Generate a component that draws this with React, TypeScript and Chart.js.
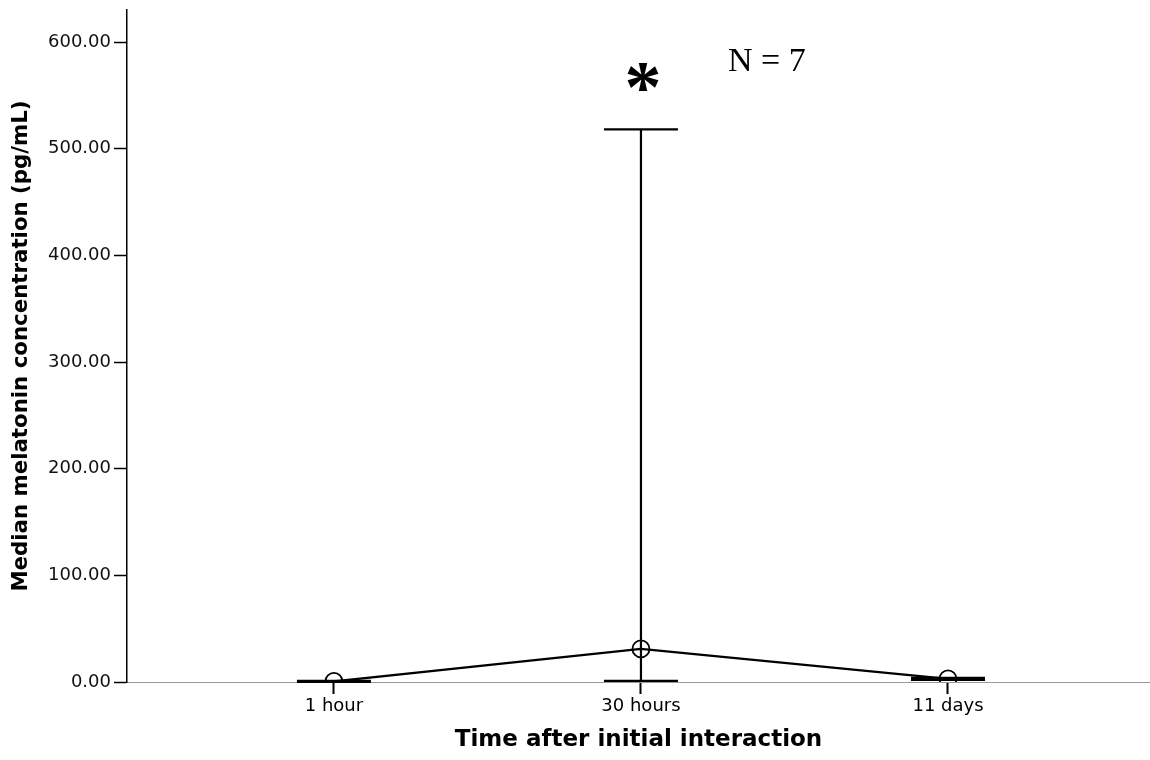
import { useEffect, useRef } from "react";
import { Chart, registerables } from "chart.js";

Chart.register(...registerables);

// Time points and median melatonin with their range bars
const categories = ["1 hour", "30 hours", "11 days"];
const medians = [0.5, 31, 3];
const lowerBounds = [0, 1, 2];
const upperBounds = [1, 518, 4];
const yTickValues = [0, 100, 200, 300, 400, 500, 600];
const sampleSize = 7;
const significantIndex = 1;

const SANS = '"DejaVu Sans", Verdana, sans-serif';
const SERIF = '"Liberation Serif", "Times New Roman", serif';

// Vertical range bars with caps, drawn on top of the line and markers
const errorBarPlugin = {
  id: "errorBars",
  afterDatasetsDraw(chart: any) {
    const { ctx, chartArea, scales } = chart;
    const xs = scales.x;
    const ys = scales.y;
    ctx.save();
    ctx.beginPath();
    ctx.rect(chartArea.left, chartArea.top, chartArea.right - chartArea.left, chartArea.bottom - chartArea.top + 2);
    ctx.clip();
    ctx.strokeStyle = "#000";
    ctx.lineWidth = 2.2;
    const half = 37;
    categories.forEach((_, i) => {
      const x = xs.getPixelForValue(i);
      const yt = ys.getPixelForValue(upperBounds[i]);
      const yb = ys.getPixelForValue(lowerBounds[i]);
      ctx.beginPath();
      ctx.moveTo(x, yt);
      ctx.lineTo(x, yb);
      ctx.moveTo(x - half, yt);
      ctx.lineTo(x + half, yt);
      ctx.moveTo(x - half, yb);
      ctx.lineTo(x + half, yb);
      ctx.stroke();
    });
    ctx.restore();
  },
};

// Significance star above the peak bar and the sample-size note
const annotationPlugin = {
  id: "annotations",
  afterDraw(chart: any) {
    const { ctx, scales } = chart;
    const x = scales.x.getPixelForValue(significantIndex);
    const yTop = scales.y.getPixelForValue(upperBounds[significantIndex]);
    ctx.save();
    ctx.fillStyle = "#000";
    ctx.textAlign = "center";
    ctx.textBaseline = "alphabetic";
    ctx.font = `bold 74px ${SERIF}`;
    ctx.fillText("*", x + 2, yTop - 17);
    ctx.textAlign = "left";
    ctx.font = `34px ${SERIF}`;
    ctx.fillText(`N = ${sampleSize}`, 728, 71);
    ctx.restore();
  },
};

export default function App() {
  const canvasRef = useRef<HTMLCanvasElement | null>(null);

  useEffect(() => {
    document.body.style.margin = "0";
    const canvas = canvasRef.current;
    if (!canvas) return;
    const chart = new Chart(canvas, {
      type: "line",
      data: {
        datasets: [
          {
            data: medians.map((v, i) => ({ x: i, y: v })),
            borderColor: "#000",
            borderWidth: 2.2,
            pointStyle: "circle",
            pointRadius: 8.5,
            pointBorderWidth: 1.8,
            pointBorderColor: "#000",
            pointBackgroundColor: "transparent",
            tension: 0,
            clip: 0,
          },
        ],
      },
      options: {
        responsive: false,
        animation: false,
        layout: { autoPadding: false, padding: { top: 10, right: 0, bottom: 0, left: 0 } },
        plugins: {
          legend: { display: false },
          tooltip: { enabled: false },
        },
        scales: {
          x: {
            type: "linear",
            min: -0.674,
            max: 2.658,
            afterBuildTicks: (s: any) => {
              s.ticks = categories.map((_, i) => ({ value: i }));
            },
            afterFit: (s: any) => {
              s.height = 78;
              s.paddingLeft = 0;
              s.paddingRight = 0;
            },
            ticks: {
              callback: (v: any) => categories[v] ?? "",
              color: "#000",
              font: { family: SANS, size: 18 },
              padding: 2,
              maxRotation: 0,
            },
            grid: {
              drawOnChartArea: false,
              drawTicks: true,
              tickLength: 12,
              tickWidth: 2,
              tickColor: "#000",
            },
            border: { color: "#999", width: 1, dash: [2, 2] },
            title: {
              display: true,
              text: "Time after initial interaction",
              color: "#000",
              font: { family: SANS, size: 23, weight: "bold" },
              padding: { top: 0, bottom: 6 },
            },
          },
          y: {
            type: "linear",
            min: 0,
            max: 630,
            afterBuildTicks: (s: any) => {
              s.ticks = yTickValues.map((v) => ({ value: v }));
            },
            afterFit: (s: any) => {
              s.width = 127;
              s.paddingTop = 0;
              s.paddingBottom = 0;
            },
            ticks: {
              callback: (v: any) => Number(v).toFixed(2),
              color: "#111",
              font: { family: SANS, size: 18 },
              padding: 3,
            },
            grid: {
              drawOnChartArea: false,
              drawTicks: true,
              tickLength: 13,
              tickWidth: 1.5,
              tickColor: "#000",
            },
            border: { color: "#000", width: 1.5 },
            title: {
              display: true,
              text: "Median melatonin concentration (pg/mL)",
              color: "#000",
              font: { family: SANS, size: 21.3, weight: "bold" },
              padding: { top: 9, bottom: 0 },
            },
          },
        },
      },
      plugins: [errorBarPlugin, annotationPlugin],
    });
    return () => chart.destroy();
  }, []);

  return (
    <div style={{ width: 1150, height: 760 }}>
      <canvas ref={canvasRef} width={1150} height={760} style={{ display: "block" }} />
    </div>
  );
}
